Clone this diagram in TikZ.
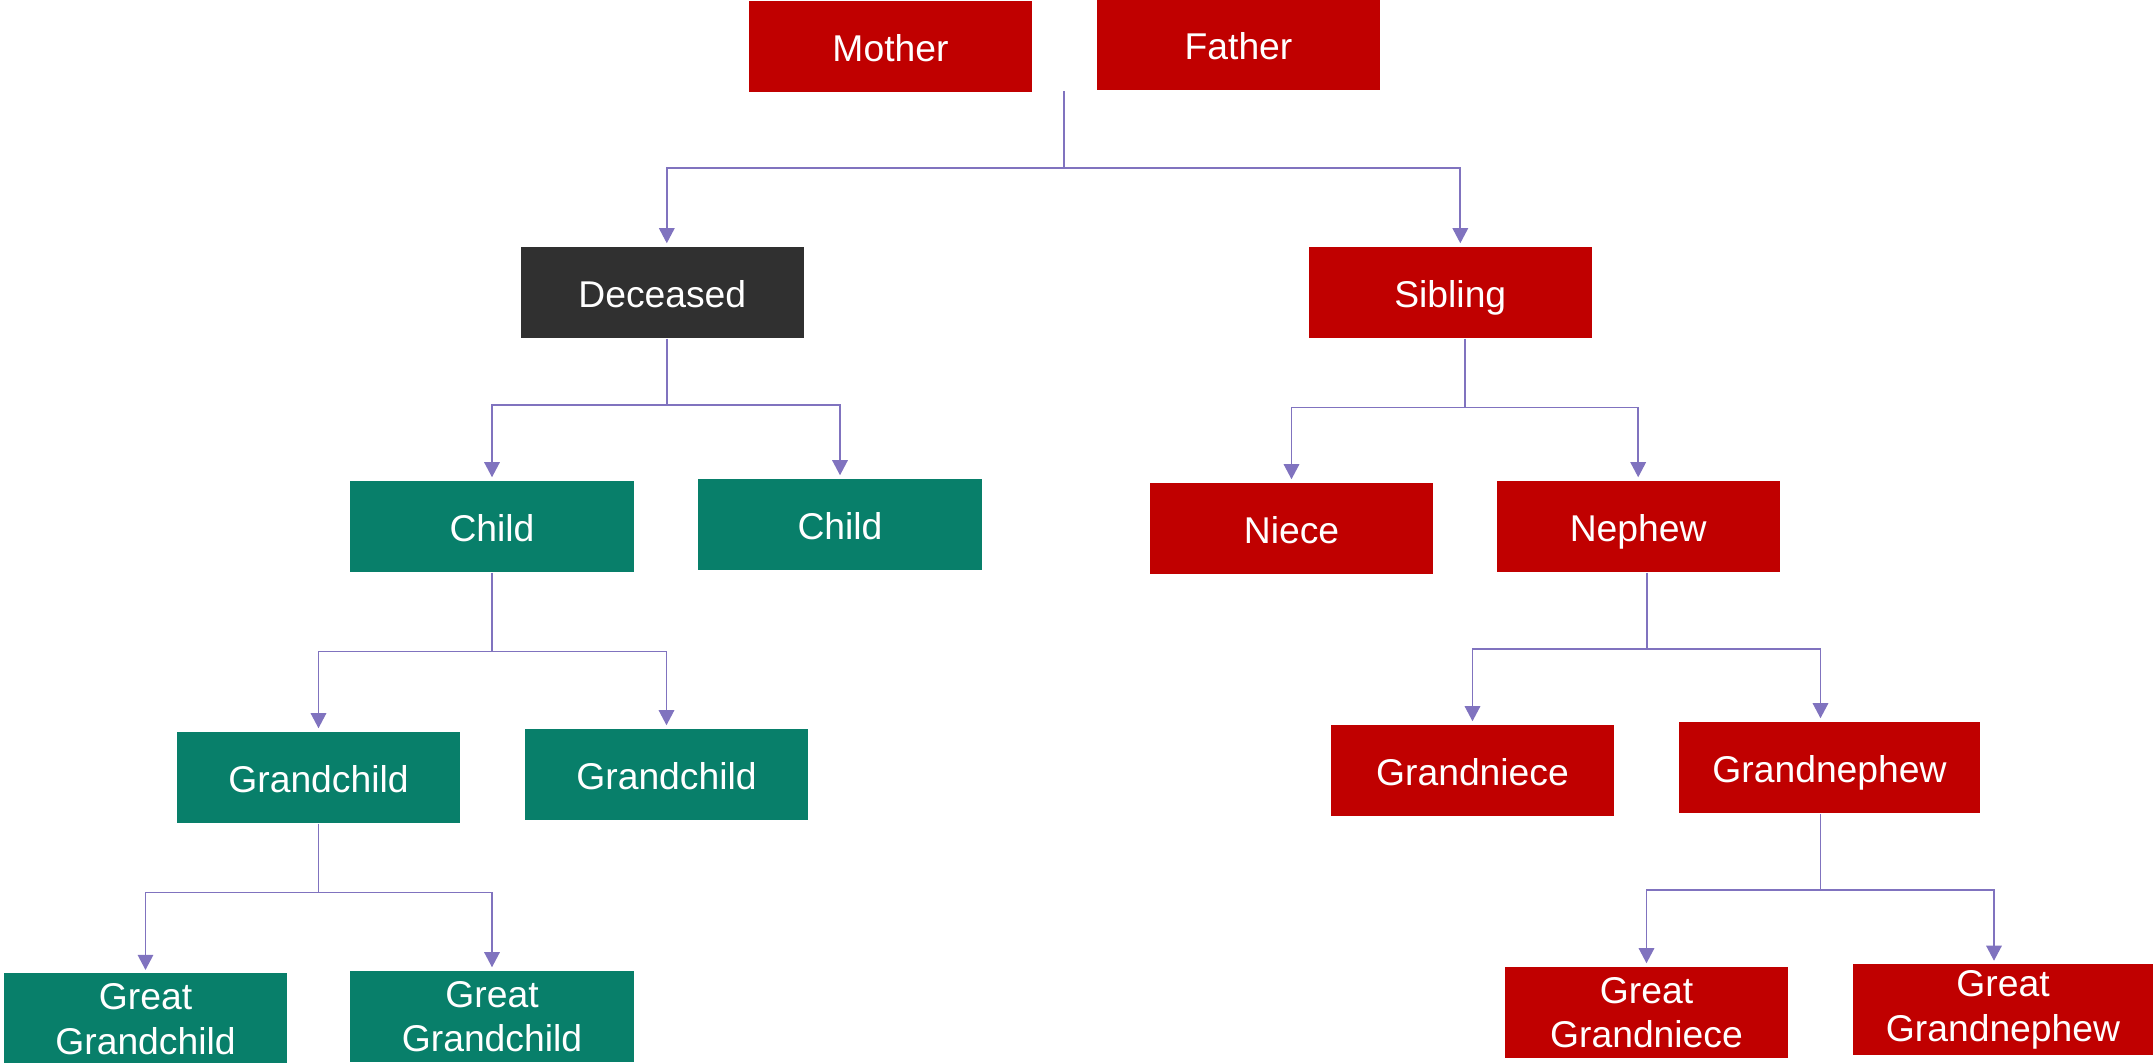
\documentclass[tikz,border=0pt]{standalone}
\usepackage{fontspec}
\setmainfont{Liberation Sans}
\usepackage{tikz}
\usetikzlibrary{arrows.meta}

\definecolor{famred}{HTML}{C00000}
\definecolor{famgreen}{HTML}{087F6A}
\definecolor{famdark}{HTML}{303030}
\definecolor{famline}{HTML}{8073BF}

\begin{document}
\begin{tikzpicture}[x=0.01cm, y=-0.01cm,
    box/.style={minimum width=2.83cm, minimum height=0.91cm, inner sep=0pt,
                text=white, align=center, font=\fontsize{10.6}{12.7}\selectfont,
                text height=1.05em, text depth=0.2em},
    wide/.style={minimum width=3.01cm},
    two/.style={font=\fontsize{10.6}{12.6}\selectfont, text height=, text depth=},
    redbox/.style={box, fill=famred},
    greenbox/.style={box, fill=famgreen},
    darkbox/.style={box, fill=famdark},
    link/.style={draw=famline, line width=0.5pt},
    linkarrow/.style={link, -{Triangle[width=4.4pt, length=4.3pt]}, shorten >=0.8pt}]
    \useasboundingbox (0,0) rectangle (2153,1062);

    % parents
    \node[redbox] (mother) at (890.5,46.3) {Mother};
    \node[redbox, minimum height=0.90cm] (father) at (1238.5,45) {Father};

    % deceased and sibling
    \node[darkbox] (deceased) at (662.3,292.3) {Deceased};
    \node[redbox] (sibling) at (1450.3,292.3) {Sibling};

    % children, niece and nephew
    \node[greenbox] (child1) at (492,526.3) {Child};
    \node[greenbox] (child2) at (840,524.3) {Child};
    \node[redbox] (niece) at (1291.5,528.3) {Niece};
    \node[redbox] (nephew) at (1638.2,526.3) {Nephew};

    % grandchildren
    \node[greenbox] (gchild1) at (318.5,777.3) {Grandchild};
    \node[greenbox] (gchild2) at (666.5,774.3) {Grandchild};
    \node[redbox] (gniece) at (1472.5,770.3) {Grandniece};
    \node[redbox, wide] (gnephew) at (1829.5,767.3) {Grandnephew};

    % great grandchildren
    \node[greenbox, two] (ggchild1) at (145.5,1019) {Great\\Grandchild};
    \node[greenbox, two] (ggchild2) at (492,1016.3) {Great\\Grandchild};
    \node[redbox, two] (ggniece) at (1646.5,1012.3) {Great\\Grandniece};
    \node[redbox, two, minimum width=3cm] (ggnephew) at (2003,1009.8) {Great\\Grandnephew};

    % parents to deceased and sibling
    \coordinate (par) at (1063.7,91);
    \draw[link] (par) -- (1063.7,167.7) coordinate (parj);
    \draw[linkarrow] (parj) -| ([xshift=0.045cm]deceased.north);
    \draw[linkarrow] (parj) -| ([xshift=0.1cm]sibling.north);

    % deceased to children
    \draw[link] ([xshift=0.045cm]deceased.south) -- ++(0,66.6) coordinate (decj);
    \draw[linkarrow] (decj) -| (child1.north);
    \draw[linkarrow] (decj) -| (child2.north);

    % sibling to niece and nephew
    \draw[link] ([xshift=0.15cm]sibling.south) -- ++(0,69) coordinate (sibj);
    \draw[linkarrow] (sibj) -| (niece.north);
    \draw[linkarrow] (sibj) -| (nephew.north);

    % child to grandchildren
    \draw[link] (child1.south) -- ++(0,79) coordinate (chj);
    \draw[linkarrow] (chj) -| (gchild1.north);
    \draw[linkarrow] (chj) -| (gchild2.north);

    % nephew to grandniece and grandnephew
    \draw[link] ([xshift=0.09cm]nephew.south) -- ++(0,76.3) coordinate (nepj);
    \draw[linkarrow] (nepj) -| (gniece.north);
    \draw[linkarrow] (nepj) -| ([xshift=-0.09cm]gnephew.north);

    % grandchild to great grandchildren
    \draw[link] (gchild1.south) -- ++(0,69) coordinate (gchj);
    \draw[linkarrow] (gchj) -| (ggchild1.north);
    \draw[linkarrow] (gchj) -| (ggchild2.north);

    % grandnephew to great grandniece and great grandnephew
    \draw[link] ([xshift=-0.09cm]gnephew.south) -- ++(0,76.6) coordinate (gnepj);
    \draw[linkarrow] (gnepj) -| (ggniece.north);
    \draw[linkarrow] (gnepj) -| ([xshift=-0.09cm]ggnephew.north);

\end{tikzpicture}
\end{document}
